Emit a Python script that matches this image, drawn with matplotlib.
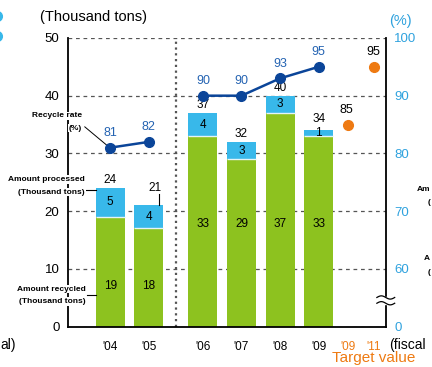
import matplotlib.pyplot as plt
import numpy as np
import matplotlib.transforms as mtransforms
from matplotlib.lines import Line2D
from matplotlib.patches import Rectangle

# Recycling results by fiscal year (thousand tons / %)
years = ["'04", "'05", "'06", "'07", "'08", "'09"]
recycled = [19, 18, 33, 29, 37, 33]
other = [5, 4, 4, 3, 3, 1]
processed = [24, 21, 37, 32, 40, 34]
rate = [81, 82, 90, 90, 93, 95]
target_years = ["'09", "'11"]
target_rate = [85, 95]
left_ticks = [0, 10, 20, 30, 40, 50]
rate_ticks = [0, 60, 70, 80, 90, 100]

GREEN = '#8dc21f'
BLUE = '#38b8ea'
NAVY = '#0b4599'
RATE_TXT = '#2463b2'
ORANGE = '#ee7a12'
SKY = '#2fa2de'
GRID = '#555555'

plt.rcParams['font.family'] = ['Liberation Sans', 'DejaVu Sans']
NARROW = ['Liberation Sans Narrow', 'Liberation Sans', 'DejaVu Sans']


def to_left(r):
    # rate axis is broken: 60..100 % sits on 10..50 of the left scale
    return r - 50


fig = plt.figure(figsize=(4.32, 3.67), dpi=100)
ax = fig.add_axes([0.157, 0.110, 0.736, 0.7866])

idx = np.arange(len(years))
x = idx + np.where(idx >= 2, 0.4, 0.0)
xt = np.array([6.15, 6.83])
w = 0.75

proc = np.array(processed)
oth = np.array(other)
base = proc - oth

ax.bar(x, base, w, color=GREEN, zorder=2)
ax.bar(x, oth, w, bottom=base, color=BLUE, zorder=2)
ax.hlines(base, x - w / 2, x + w / 2, color='#e4f4f8', lw=1.0, zorder=3)

ax.set_xlim(-1.10, 7.14)
ax.set_ylim(0, 50)
ax.set_yticks(left_ticks)
ax.tick_params(axis='y', length=0, pad=6, labelsize=9.5)
ax.set_xticks(list(x) + list(xt))
ax.set_xticklabels(years + target_years)
ax.tick_params(axis='x', length=0, pad=10, labelsize=8.5)
for lab in ax.get_xticklabels()[len(years):]:
    lab.set_color(ORANGE)
ax.yaxis.grid(True, color=GRID, lw=0.9, linestyle=(0, (3, 3)))
ax.set_axisbelow(True)
for s in ['top', 'right']:
    ax.spines[s].set_visible(False)
ax.spines['left'].set_linewidth(1.3)
ax.spines['bottom'].set_linewidth(1.3)

# divider between the two periods
ax.axvline(1.71, color=GRID, lw=1.6, linestyle=(0, (1, 1.6)), zorder=1)

# right axis for recycle rate
ax2 = ax.twinx()
ax2.set_ylim(0, 50)
ax2.set_yticks(left_ticks)
ax2.set_yticklabels(rate_ticks)
ax2.tick_params(axis='y', length=0, pad=6, labelsize=9.5, labelcolor=SKY)
for s in ['top', 'left', 'bottom']:
    ax2.spines[s].set_visible(False)
ax2.spines['right'].set_linewidth(1.3)

# axis break on the rate axis
tr = mtransforms.blended_transform_factory(ax2.transAxes, ax2.transData)
ax2.add_patch(Rectangle((0.97, 3.9), 0.06, 1.3, transform=tr, color='white',
                        clip_on=False, zorder=5))
wx = np.linspace(0.972, 1.028, 40)
for yb in (4.05, 5.05):
    ax2.plot(wx, yb + 0.28 * np.sin((wx - 0.972) / 0.056 * 2 * np.pi), color='black',
             lw=0.9, transform=tr, clip_on=False, zorder=6)

# recycle rate lines
r = np.array([to_left(v) for v in rate])
ax.plot(x[:2], r[:2], color=NAVY, lw=1.8, marker='o', ms=7, zorder=4)
ax.plot(x[2:], r[2:], color=NAVY, lw=1.8, marker='o', ms=7, zorder=4)
for xi, ri, v in zip(x, r, rate):
    ax.text(xi, ri + 2.5, str(v), ha='center', va='center', color=RATE_TXT,
            fontsize=9)
rt = np.array([to_left(v) for v in target_rate])
ax.plot(xt, rt, 'o', color=ORANGE, ms=7, zorder=4)
for xi, ri, v in zip(xt, rt, target_rate):
    ax.text(xi - 0.02, ri + 2.5, str(v), ha='center', va='center', fontsize=9)

# bar value labels
for i, (xi, a, o, b) in enumerate(zip(x, base, oth, proc)):
    ax.text(xi, a + o / 2, str(o), ha='center', va='center', fontsize=8.5, zorder=5)
    ax.text(xi, 7.0 if i < 2 else 17.7, str(recycled[i]), ha='center', va='center',
            fontsize=8.5, zorder=5)
    if i == 1:
        ax.text(xi + 0.15, b + 3.0, str(b), ha='center', va='center', fontsize=8.5)
        ax.plot([xi + 0.25, xi + 0.25], [b, b + 1.9], color='black', lw=0.8)
    else:
        ax.text(xi, b + (1.9 if o < 2 else 1.4), str(b), ha='center', va='center',
                fontsize=8.5)

# callouts on the left, masking the spine behind them
cf = dict(fontsize=6.0, fontweight='bold', family=NARROW, ha='right', va='center',
          zorder=6, bbox=dict(fc='white', ec='none', pad=0.6))
ax.text(-0.74, 36.5, 'Recycle rate', **cf)
ax.text(-0.74, 34.4, '(%)', **cf)
ax.plot([-0.66, x[0] - 0.05], [34.6, r[0] + 0.2], color='black', lw=0.7)
ax.text(-0.66, 25.5, 'Amount processed', **cf)
ax.text(-0.66, 23.3, '(Thousand tons)', **cf)
ax.plot([-0.64, x[0] - w / 2], [23.6, 23.6], color='black', lw=0.8)
ax.text(-0.63, 6.5, 'Amount recycled', **cf)
ax.text(-0.63, 4.4, '(Thousand tons)', **cf)
ax.plot([-0.61, x[0] - w / 2], [5.4, 5.4], color='black', lw=0.8)

# headers and footers
fig.text(40 / 432, 1 - 17 / 367, '(Thousand tons)', fontsize=10.5, va='center')
fig.text(389 / 432, 1 - 21 / 367, '(%)', fontsize=10.5, va='center', color=SKY)
fig.text(389 / 432, 1 - 345 / 367, '(fiscal', fontsize=10, va='center')
fig.text(374 / 432, 1 - 358 / 367, 'Target value', fontsize=11, va='center',
         ha='center', color=ORANGE)

# neighbouring panels at the edges
fig.text(0.5 / 432, 1 - 345 / 367, 'al)', fontsize=10, va='center', ha='left')
ef = dict(fontsize=6.0, va='center', fontweight='bold', family=NARROW)
fig.text(417 / 432, 1 - 189 / 367, 'Am', **ef)
fig.text(428 / 432, 1 - 202 / 367, '(', **ef)
fig.text(424 / 432, 1 - 259 / 367, 'A', **ef)
fig.text(428 / 432, 1 - 272 / 367, '(', **ef)
for yy in (16, 36):
    fig.add_artist(Line2D([-3 / 432], [1 - yy / 367], marker='o', ms=7,
                          color=BLUE, transform=fig.transFigure))

fig.savefig('out.png', dpi=100)
